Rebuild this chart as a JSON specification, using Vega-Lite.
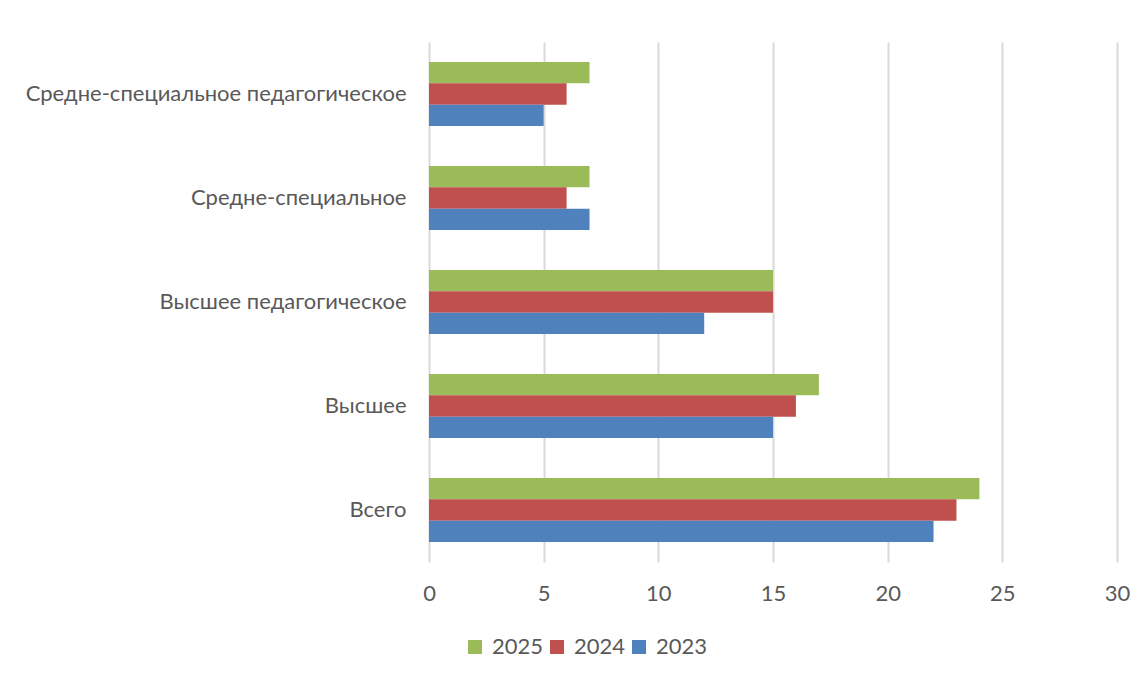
{
  "$schema": "https://vega.github.io/schema/vega-lite/v6.json",
  "width": 688,
  "height": 520,
  "autosize": {"type": "none"},
  "padding": {"left": 429, "top": 42, "right": 29, "bottom": 116},
  "background": "white",
  "data": {
    "values": [
      {"category": "Средне-специальное педагогическое", "year": "2025", "value": 7},
      {"category": "Средне-специальное педагогическое", "year": "2024", "value": 6},
      {"category": "Средне-специальное педагогическое", "year": "2023", "value": 5},
      {"category": "Средне-специальное", "year": "2025", "value": 7},
      {"category": "Средне-специальное", "year": "2024", "value": 6},
      {"category": "Средне-специальное", "year": "2023", "value": 7},
      {"category": "Высшее педагогическое", "year": "2025", "value": 15},
      {"category": "Высшее педагогическое", "year": "2024", "value": 15},
      {"category": "Высшее педагогическое", "year": "2023", "value": 12},
      {"category": "Высшее", "year": "2025", "value": 17},
      {"category": "Высшее", "year": "2024", "value": 16},
      {"category": "Высшее", "year": "2023", "value": 15},
      {"category": "Всего", "year": "2025", "value": 24},
      {"category": "Всего", "year": "2024", "value": 23},
      {"category": "Всего", "year": "2023", "value": 22}
    ]
  },
  "mark": {"type": "bar"},
  "encoding": {
    "y": {
      "field": "category",
      "type": "nominal",
      "sort": ["Средне-специальное педагогическое", "Средне-специальное", "Высшее педагогическое", "Высшее", "Всего"],
      "scale": {"paddingInner": 0.3846, "paddingOuter": 0.1923},
      "axis": {
        "title": null,
        "ticks": false,
        "domain": false,
        "grid": false,
        "labelPadding": 23,
        "labelFont": "Lato",
        "labelFontSize": 22,
        "labelColor": "#595959",
        "labelLimit": 500
      }
    },
    "yOffset": {
      "field": "year",
      "type": "nominal",
      "sort": ["2025", "2024", "2023"],
      "scale": {"paddingInner": 0, "paddingOuter": 0}
    },
    "x": {
      "field": "value",
      "type": "quantitative",
      "scale": {"domain": [0, 30], "nice": false},
      "axis": {
        "title": null,
        "values": [0, 5, 10, 15, 20, 25, 30],
        "ticks": false,
        "domain": false,
        "grid": true,
        "gridColor": "#d9d9d9",
        "gridWidth": 2,
        "labelFlush": false,
        "labelPadding": 21,
        "labelFont": "Lato",
        "labelFontSize": 22,
        "labelColor": "#595959"
      }
    },
    "color": {
      "field": "year",
      "type": "nominal",
      "scale": {"domain": ["2025", "2024", "2023"], "range": ["#9BBB59", "#C0504D", "#4F81BD"]},
      "legend": {
        "title": null,
        "orient": "none",
        "direction": "horizontal",
        "legendX": 35,
        "legendY": 594,
        "symbolType": "square",
        "symbolSize": 196,
        "symbolStrokeWidth": 0,
        "symbolOpacity": 1,
        "labelFont": "Lato",
        "labelFontSize": 22,
        "labelColor": "#595959",
        "labelOffset": 6,
        "columnPadding": 2
      }
    }
  },
  "config": {
    "view": {"stroke": null}
  }
}
